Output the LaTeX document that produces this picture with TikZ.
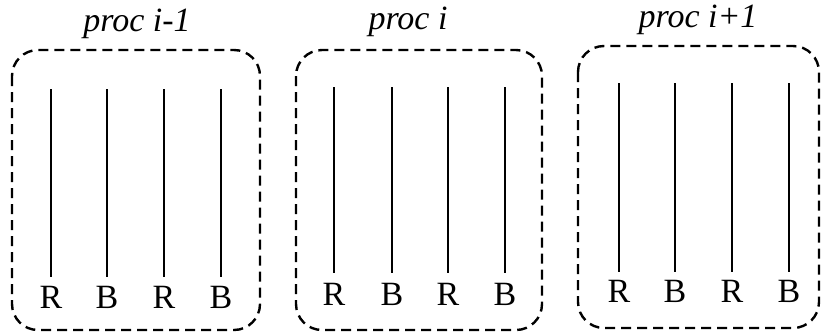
\documentclass[tikz,border=0pt]{standalone}
\usepackage{fontspec}
\setmainfont{Liberation Serif}
\begin{document}
\begin{tikzpicture}[x=0.5pt,y=-0.5pt,
  procbox/.style={draw, line width=1.2pt, dash pattern=on 5pt off 3pt, rounded corners=13pt},
  wire/.style={line width=1.1pt},
  tag/.style={font=\fontsize{17}{17}\selectfont, inner sep=0pt},
  title/.style={font=\fontsize{17}{17}\selectfont\itshape, inner sep=0pt}]
\useasboundingbox (0,0) rectangle (822,332);
% process boxes
\draw[procbox] (12,50) rectangle (260,330);
\draw[procbox] (296,50) rectangle (542,330);
\draw[procbox] (578,46) rectangle (819,328);
% titles
\node[title] (t1) at (137,24) {proc i-1};
\node[title] (t2) at (408,22) {proc i};
\node[title] (t3) at (698,20) {proc i+1};
% vertical wires with their labels
\foreach \x/\l [count=\k] in {51/R,107/B,164/R,221/B}{
  \draw[wire] (\x,89) -- (\x,277);
  \node[tag] (a\k) at (\x,297) {\l};
}
\foreach \x/\l [count=\k] in {334/R,392/B,448/R,505/B}{
  \draw[wire] (\x,87) -- (\x,273);
  \node[tag] (b\k) at (\x,294) {\l};
}
\foreach \x/\l [count=\k] in {619/R,675/B,732/R,789/B}{
  \draw[wire] (\x,83) -- (\x,272);
  \node[tag] (c\k) at (\x,291) {\l};
}
\end{tikzpicture}
\end{document}
